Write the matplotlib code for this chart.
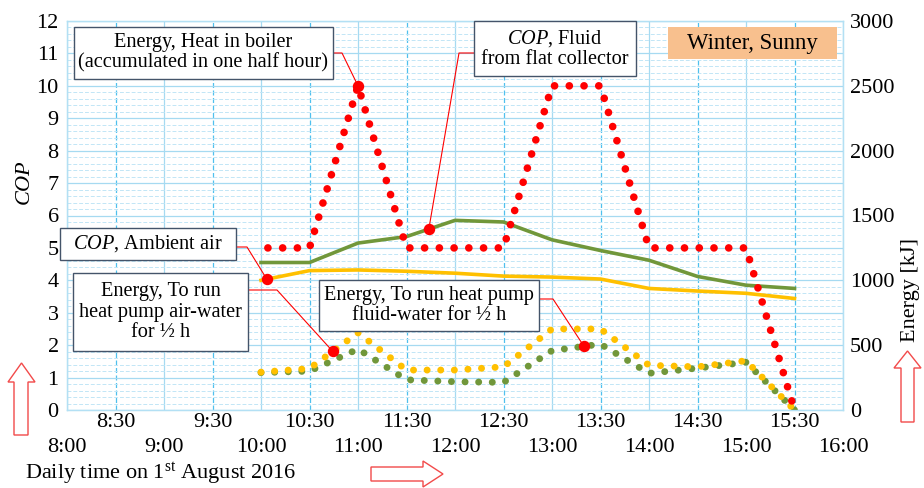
import matplotlib
matplotlib.use('Agg')
import matplotlib.pyplot as plt
import numpy as np
from matplotlib.patches import Rectangle, Polygon
from matplotlib.lines import Line2D

plt.rcParams['font.family'] = ['Liberation Serif', 'DejaVu Serif']
plt.rcParams['mathtext.fontset'] = 'custom'
plt.rcParams['mathtext.rm'] = 'Liberation Serif'
plt.rcParams['mathtext.it'] = 'Liberation Serif:italic'

# half-hourly readings, 10:00 to 15:30 (time in hours)
times = [10.0, 10.5, 11.0, 11.5, 12.0, 12.5, 13.0, 13.5, 14.0, 14.5, 15.0, 15.5]

# COP values (left axis)
cop_fluid = [4.55, 4.55, 5.15, 5.35, 5.85, 5.8, 5.25, 4.92, 4.62, 4.12, 3.85, 3.75]
cop_air = [4.0, 4.3, 4.32, 4.28, 4.22, 4.13, 4.1, 4.04, 3.75, 3.67, 3.6, 3.44]

# energy per half hour in kJ (right axis)
heat_boiler = [1250, 1250, 2500, 1250, 1250, 1250, 2500, 2500, 1250, 1250, 1250, 0]
hp_air_water = [292, 320, 595, 308, 308, 333, 625, 625, 345, 333, 380, 0]
hp_fluid_water = [288, 300, 470, 233, 218, 213, 458, 508, 283, 323, 368, 0]

hour_labels = ['8:00', '9:00', '10:00', '11:00', '12:00', '13:00', '14:00', '15:00', '16:00']
half_labels = ['8:30', '9:30', '10:30', '11:30', '12:30', '13:30', '14:30', '15:30']

RED = '#ff0000'
GREEN = '#71973a'
GOLD = '#ffc000'
GRID = '#b3e0f4'
W, H = 924, 488


def fpos(x, y):
    # pixel position (from top-left) -> figure fraction
    return x / W, 1 - y / H


fig = plt.figure(figsize=(W / 100, H / 100), dpi=100)
ax = fig.add_axes([67 / W, 1 - 410 / H, 776 / W, 389 / H])
ax2 = ax.twinx()

ax.set_xlim(8, 16)
ax.set_ylim(0, 12)
ax2.set_ylim(0, 3000)

ax.set_xticks(np.arange(8, 16.1, 1))
ax.set_xticklabels(hour_labels)
ax.set_xticks(np.arange(8.5, 16, 1), minor=True)
ax.set_xticklabels(half_labels, minor=True)
ax.set_yticks(range(13))
ax.set_yticks(np.arange(0, 12.01, 0.2), minor=True)
ax2.set_yticks(range(0, 3001, 500))

ax.tick_params(axis='x', which='major', length=0, pad=20, labelsize=16)
ax.tick_params(axis='x', which='minor', length=0, pad=2, labelsize=16)
ax.tick_params(axis='y', which='both', length=0, pad=6, labelsize=16)
ax2.tick_params(axis='y', length=0, pad=5, labelsize=16)

ax.grid(which='major', axis='y', color='#a6daf1', lw=0.9, ls='-')
ax.grid(which='minor', axis='y', color='#c2e6f6', lw=0.7, ls=(0, (4, 2)))
ax.grid(which='major', axis='x', color='#a6daf1', lw=0.9, ls='-')
ax.grid(which='minor', axis='x', color='#4fc0ee', lw=0.9, ls=(0, (4, 2)))
ax.set_axisbelow(True)
for a in (ax, ax2):
    for s in a.spines.values():
        s.set_color(GRID)
        s.set_linewidth(0.9)

# COP curves
ax.plot(times, cop_fluid, color=GREEN, lw=2.6, solid_joinstyle='round')
ax.plot(times, cop_air, color=GOLD, lw=2.6, solid_joinstyle='round')

# energy curves, drawn as round dots
ax2.plot(times, hp_fluid_water, color=GREEN, lw=5, ls=(0, (0.01, 1.95)),
         dash_capstyle='round')
ax2.plot(times, hp_air_water, color=GOLD, lw=5, ls=(0, (0.01, 1.95)),
         dash_capstyle='round')
ax2.plot(times, heat_boiler, color=RED, lw=5.5, ls=(-0.9, (0.01, 1.92)),
         dash_capstyle='round')

to_fig = fig.transFigure.inverted()


def callout(box, lines, elbow, axis, t, series):
    x0, y0, x1, y1 = box
    bl = fpos(x0, y1)
    fig.add_artist(Rectangle(bl, (x1 - x0) / W, (y1 - y0) / H,
                             transform=fig.transFigure, facecolor='white',
                             edgecolor='#44546a', lw=1.0, zorder=5))
    fig.text(*fpos((x0 + x1) / 2, (y0 + y1) / 2), lines, ha='center',
             va='center', fontsize=14.6, linespacing=1.08, zorder=6)
    val = np.interp(t, times, series)
    pt = to_fig.transform(axis.transData.transform((t, val)))
    start, mid = fpos(*elbow[0]), fpos(*elbow[1])
    fig.add_artist(Line2D([start[0], mid[0], pt[0]], [start[1], mid[1], pt[1]],
                          transform=fig.transFigure, color=RED, lw=0.8, zorder=4))
    fig.add_artist(Line2D([pt[0]], [pt[1]], transform=fig.transFigure,
                          marker='o', ms=7.2, color=RED, zorder=7))


callout((74, 27, 333, 79), 'Energy, Heat in boiler\n(accumulated in one half hour)',
        [(333, 53), (342, 53)], ax2, 11.0, heat_boiler)
callout((474, 21, 636, 76), '$COP$, Fluid\nfrom flat collector',
        [(474, 53), (459, 53)], ax, 11.73, cop_fluid)
callout((60, 228, 236, 260), '$COP$, Ambient air',
        [(236, 247), (247, 247)], ax, 10.06, cop_air)
callout((73, 273, 248, 351), 'Energy, To run\nheat pump air-water\nfor ½ h',
        [(248, 290), (277, 290)], ax2, 10.74, hp_air_water)
callout((319, 280, 539, 331), 'Energy, To run heat pump\nfluid-water for ½ h',
        [(539, 299), (553, 299)], ax2, 13.33, hp_fluid_water)

# season tag
fig.add_artist(Rectangle(fpos(668, 59), 169 / W, 32 / H, transform=fig.transFigure,
                         facecolor='#f8c08e', edgecolor='none', zorder=5))
fig.text(*fpos(752, 43), 'Winter, Sunny', ha='center', va='center', fontsize=16.4,
         zorder=6)

# axis titles
fig.text(*fpos(26, 183), '$COP$', rotation=90, ha='center', va='center', fontsize=16)
fig.text(*fpos(911, 290), 'Energy [kJ]', rotation=90, ha='center', va='center',
         fontsize=16)
fig.text(*fpos(25, 474), 'Daily time on 1$^{\\mathrm{st}}$ August 2016', ha='left',
         va='center', fontsize=16)

# outlined direction arrows
arrows = [
    [(21.5, 363), (35, 382), (28, 382), (28, 435), (14, 435), (14, 382), (8, 382)],
    [(907.5, 351), (921, 368), (914, 368), (914, 422), (901, 422), (901, 368), (894, 368)],
    [(443, 474), (423, 487), (423, 481), (371, 481), (371, 467), (423, 467), (423, 461)],
]
for shape in arrows:
    fig.add_artist(Polygon([fpos(x, y) for x, y in shape], closed=True,
                           transform=fig.transFigure, facecolor='white',
                           edgecolor='#f24a4a', lw=1.0))

fig.savefig('out.png', dpi=100)
